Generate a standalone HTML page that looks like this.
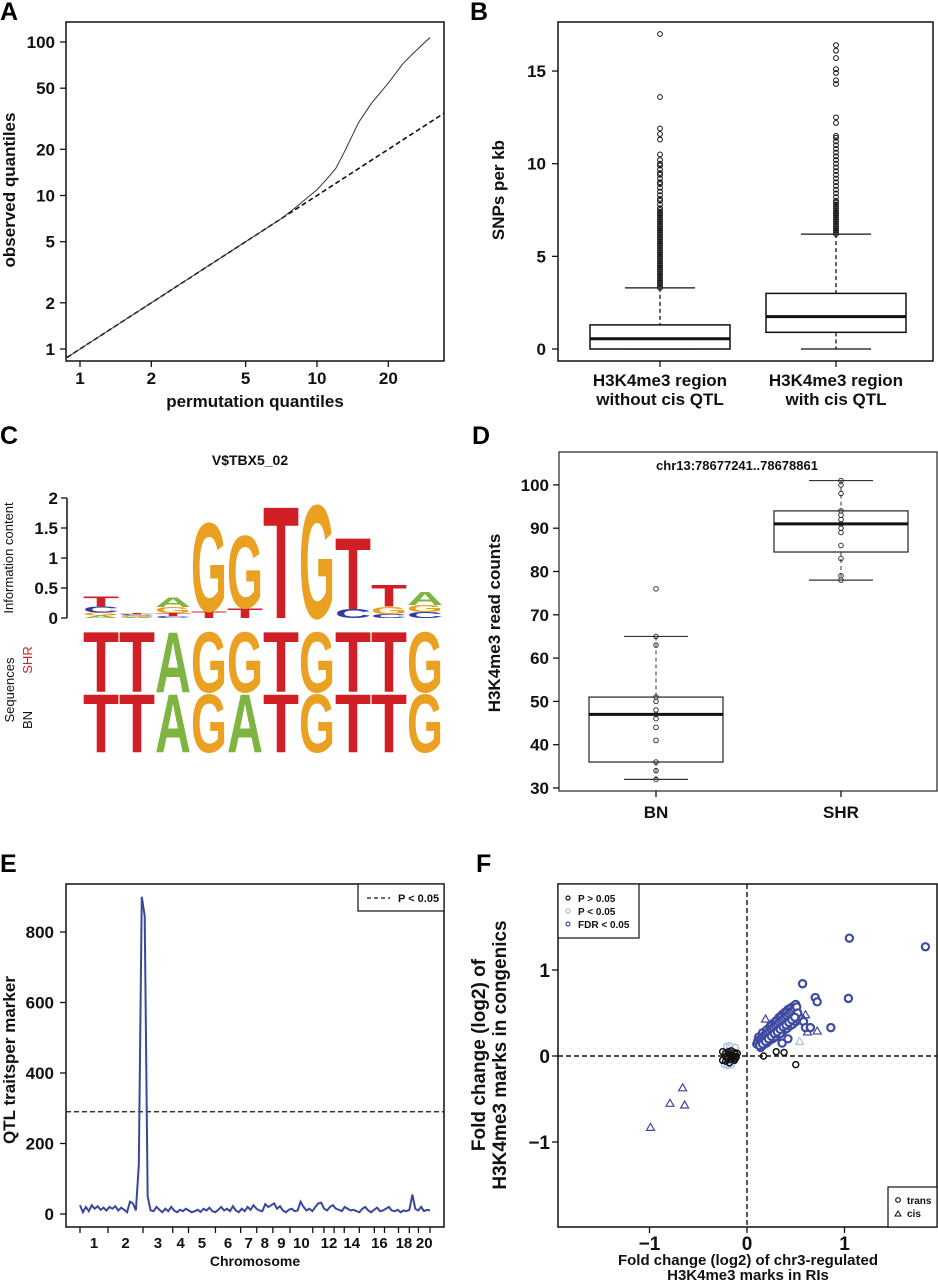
<!DOCTYPE html>
<html><head><meta charset="utf-8"><style>
html,body{margin:0;padding:0;background:#fff}
svg{display:block;font-family:"Liberation Sans",Arial,sans-serif}
.tk{font-size:17px;font-weight:bold;fill:#111}
.tt{font-size:17px;font-weight:bold;fill:#111}
.pl{font-size:25px;font-weight:bold;fill:#000}
</style></head><body>
<svg id="fig" width="938" height="1280" viewBox="0 0 938 1280" xmlns="http://www.w3.org/2000/svg">
<g id="gA"></g>
<g id="gB"></g>
<g id="gC"></g>
<g id="gD"></g>
<g id="gE"></g>
<g id="gF"></g>
</svg>
<script>
// ---------- Panel A data ----------
const aPermQ = [0.9,1,2,3,5,7,8,10,11,12,13,15,17,20,23,25,28,30];
const aObsQ  = [0.9,1,2,3,5,7,8.2,10.9,12.8,15,19,30,40,54,72,82,97,107];
const aXTicks = [1,2,5,10,20];
const aYTicks = [1,2,5,10,20,50,100];
// ---------- Panel B data ----------
const bGroups = ["H3K4me3 region|without cis QTL","H3K4me3 region|with cis QTL"];
const bQ1 = [0,0.9], bMed=[0.55,1.75], bQ3=[1.3,3.0], bLo=[0,0], bHi=[3.3,6.2];
const bOut1 = [3.3,3.4,3.5,3.6,3.7,3.8,3.9,4.0,4.1,4.2,4.3,4.4,4.5,4.6,4.7,4.8,4.9,5.0,5.1,5.2,5.3,5.4,5.5,5.6,5.7,5.8,5.9,6.0,6.1,6.2,6.3,6.4,6.5,6.6,6.7,6.8,6.9,7.0,7.1,7.2,7.3,7.4,7.5,7.6,7.8,8.0,8.1,8.3,8.5,8.7,8.9,9.0,9.2,9.4,9.5,9.7,9.9,10.0,10.2,10.5,11.3,11.6,11.9,13.6,17.0];
const bOut2 = [6.2,6.3,6.4,6.5,6.6,6.7,6.8,6.9,7.0,7.1,7.2,7.3,7.4,7.5,7.6,7.7,7.8,7.9,8.0,8.2,8.4,8.6,8.8,9.0,9.2,9.4,9.6,9.8,10.0,10.2,10.4,10.6,10.8,11.0,11.2,11.4,11.5,12.2,12.5,14.3,14.5,14.9,15.1,15.7,16.1,16.4];
const bYTicks = [0,5,10,15];
// ---------- Panel C data ----------
const cMotifCols = [
 [["A",0.04],["G",0.05],["C",0.1],["T",0.18]],
 [["A",0.02],["G",0.02],["C",0.02],["T",0.02]],
 [["C",0.03],["T",0.05],["G",0.1],["A",0.17]],
 [["T",0.11],["G",1.53]],
 [["T",0.17],["G",1.25]],
 [["T",1.92]],
 [["G",1.95]],
 [["C",0.15],["T",1.22]],
 [["C",0.07],["G",0.12],["T",0.38]],
 [["C",0.1],["G",0.12],["A",0.22]]
];
const cSHR = ["T","T","A","G","G","T","G","T","T","G"];
const cBN  = ["T","T","A","G","A","T","G","T","T","G"];
const cYTicks = [0,0.5,1,1.5,2];
// ---------- Panel D data ----------
const dGroups = ["BN","SHR"];
const dQ1=[36,84.5], dMed=[47,91], dQ3=[51,94], dLo=[32,78], dHi=[65,101];
const dPtsBN = [32,34,36,41,44,46,47,48,50,51,63,65,76];
const dPtsSHR = [78,79,83,86,89,90,91,92,93,94,98,100,101];
const dYTicks = [30,40,50,60,70,80,90,100];
// ---------- Panel E data ----------
const eQtl = [25,5,20,8,25,15,22,12,18,10,20,15,22,10,18,12,5,35,30,10,140,900,845,50,10,8,20,12,5,15,8,20,10,5,12,8,15,10,5,8,12,6,15,10,18,8,5,12,20,10,15,8,22,10,5,15,8,20,12,25,15,10,8,28,20,25,30,15,22,10,5,12,15,8,10,35,20,10,15,8,20,30,32,15,10,20,25,15,12,8,20,15,10,12,8,5,15,20,10,5,12,18,8,10,15,20,10,8,12,5,10,8,12,55,15,10,20,8,12,10];
const eThreshold = 290;
const eYTicks = [0,200,400,600,800];
const eChrBounds = [0,0.08,0.18,0.265,0.31,0.387,0.459,0.505,0.551,0.6,0.665,0.697,0.726,0.755,0.798,0.841,0.87,0.91,0.941,0.967,1.0];
const eChrLabels = ["1","2","3","4","5","6","7","8","9","10","","12","","14","","16","","18","","20"];
// ---------- Panel F data ----------
const fFdrX = [0.1,0.12,0.14,0.15,0.16,0.18,0.2,0.22,0.24,0.25,0.27,0.3,0.32,0.34,0.36,0.38,0.4,0.42,0.44,0.46,0.48,0.5,0.12,0.15,0.18,0.21,0.24,0.27,0.3,0.33,0.36,0.39,0.42,0.45,0.48,0.14,0.17,0.2,0.23,0.26,0.29,0.32,0.35,0.38,0.41,0.44,0.47,0.5,0.53,0.55,0.12,0.16,0.2,0.25,0.3,0.35,0.4,0.45,0.5,0.22,0.28,0.34,0.58,0.6,0.65,0.7,0.72,0.86,1.04,1.05,1.83,0.57,0.36,0.42,
 0.11,0.13,0.15,0.17,0.19,0.21,0.23,0.25,0.27,0.29,0.31,0.33,0.35,0.37,0.39,0.41,0.43,0.45,0.47,0.49,0.51,0.14,0.17,0.2,0.23,0.26,0.29,0.32,0.35,0.38,0.41,0.44,0.47,0.5,0.52,0.13,0.16,0.19,0.22,0.25,0.28,0.31,0.34,0.37,0.4,0.43,0.46,0.49];
const fFdrY = [0.14,0.16,0.19,0.2,0.22,0.24,0.26,0.28,0.3,0.31,0.33,0.35,0.37,0.39,0.41,0.43,0.45,0.46,0.48,0.5,0.52,0.54,0.2,0.24,0.28,0.31,0.35,0.38,0.41,0.45,0.48,0.51,0.54,0.56,0.58,0.1,0.13,0.15,0.18,0.2,0.22,0.25,0.27,0.3,0.32,0.35,0.37,0.4,0.42,0.44,0.22,0.27,0.3,0.35,0.4,0.45,0.5,0.55,0.6,0.18,0.22,0.26,0.4,0.33,0.33,0.68,0.63,0.33,0.67,1.37,1.27,0.84,0.15,0.2,
 0.17,0.19,0.21,0.23,0.25,0.27,0.29,0.31,0.33,0.35,0.37,0.39,0.41,0.43,0.45,0.47,0.49,0.51,0.53,0.55,0.57,0.15,0.17,0.2,0.22,0.25,0.27,0.3,0.33,0.35,0.38,0.4,0.43,0.46,0.5,0.12,0.14,0.17,0.2,0.23,0.26,0.28,0.31,0.34,0.36,0.39,0.42,0.45];
const fNsX = [-0.25,-0.22,-0.2,-0.18,-0.16,-0.14,-0.12,-0.1,-0.2,-0.17,-0.15,-0.13,-0.11,-0.22,-0.19,-0.16,-0.13,-0.25,-0.18,-0.12,0.17,0.3,0.38,0.5];
const fNsY = [0.05,0.03,0.0,0.02,0.01,0.0,0.02,0.03,-0.03,-0.04,-0.02,-0.05,-0.01,-0.06,0.05,0.06,0.04,-0.05,-0.08,-0.03,0.0,0.05,0.04,-0.1];
const fPX = [-0.23,-0.2,-0.16,-0.21,-0.18,-0.12];
const fPY = [-0.1,-0.11,-0.1,0.11,0.12,0.1];
const fCisX = [-0.99,-0.79,-0.66,-0.64,0.62,0.6,0.19,0.72,0.54];
const fCisY = [-0.83,-0.55,-0.37,-0.57,0.28,0.48,0.43,0.29,0.17];
const fTicks = [-1,0,1];

const NS="http://www.w3.org/2000/svg";
function mk(tag, attrs, parent){const e=document.createElementNS(NS,tag);for(const k in attrs)e.setAttribute(k,attrs[k]);parent.appendChild(e);return e;}
function txt(s,x,y,cls,parent,anchor,rot){const t=mk("text",{x:x,y:y,"class":cls,"text-anchor":anchor||"middle"},parent);if(rot)t.setAttribute("transform","rotate(-90 "+x+" "+y+")");t.textContent=s;return t;}

// ================= Panel A =================
(function(){
 const g=document.getElementById("gA");
 const sx=v=>80+237*Math.log10(v), sy=v=>349-153.5*Math.log10(v);
 const L=txt("A",0,20,"pl",g,"start");
 
 
 const box=mk("rect",{x:66,y:22,width:378,height:339,fill:"none",stroke:"#111","stroke-width":1.5},g);
 
 
 aXTicks.forEach(v=>{const x=sx(v);mk("line",{x1:x,x2:x,y1:361,y2:367,stroke:"#111","stroke-width":1.3},g);
  const t=txt(String(v),x,384,"tk",g);
  
  });
 aYTicks.forEach(v=>{const y=sy(v);mk("line",{x1:60,x2:66,y1:y,y2:y,stroke:"#111","stroke-width":1.3},g);
  const t=txt(String(v),55,y+6,"tk",g,"end");
  
  });
 const xt=txt("permutation quantiles",255,407,"tt",g);
 
 
 const yt=txt("observed quantiles",15,190,"tt",g,"middle",true);
 
 
 const ref=mk("line",{x1:sx(0.88),y1:sy(0.88),x2:444,y2:sy(Math.pow(10,(444-80)/237)),stroke:"#111","stroke-width":1.6,"stroke-dasharray":"5,3"},g);
 
 
 const p=mk("polyline",{points:aPermQ.map((v,i)=>sx(v)+","+sy(aObsQ[i])).join(" "),fill:"none",stroke:"#333","stroke-width":1},g);
 
 
})();

// ================= Panel B =================
(function(){
 const g=document.getElementById("gB");
 const sy=v=>349-18.53*v; const cx=[660,836]; const hw=70, cap=35;
 const L=txt("B",470,20,"pl",g,"start");
 
 
 const box=mk("rect",{x:558,y:22,width:375,height:339,fill:"none",stroke:"#111","stroke-width":1.5},g);
 
 
 bYTicks.forEach(v=>{const y=sy(v);mk("line",{x1:552,x2:558,y1:y,y2:y,stroke:"#111","stroke-width":1.3},g);
  const t=txt(String(v),546,y+6,"tk",g,"end");
  
  });
 const yt=txt("SNPs per kb",504,190,"tt",g,"middle",true);
 
 
 [bOut1,bOut2].forEach((arr,gi)=>{
  const bg=mk("g",{},g);
  
  
  const x=cx[gi];
  mk("line",{x1:x,x2:x,y1:361,y2:367,stroke:"#111","stroke-width":1.3},bg);
  bGroups[gi].split("|").forEach((s,li)=>{const t=txt(s,x,386+li*19,"tk",bg);
   
   });
  mk("line",{x1:x,x2:x,y1:sy(bHi[gi]),y2:sy(bQ3[gi]),stroke:"#111","stroke-dasharray":"4,3","stroke-width":1.3},bg);
  mk("line",{x1:x,x2:x,y1:sy(bQ1[gi]),y2:sy(bLo[gi]),stroke:"#111","stroke-dasharray":"4,3","stroke-width":1.3},bg);
  mk("line",{x1:x-cap,x2:x+cap,y1:sy(bHi[gi]),y2:sy(bHi[gi]),stroke:"#111","stroke-width":1.3},bg);
  mk("line",{x1:x-cap,x2:x+cap,y1:sy(bLo[gi]),y2:sy(bLo[gi]),stroke:"#111","stroke-width":1.3},bg);
  const r=mk("rect",{x:x-hw,y:sy(bQ3[gi]),width:2*hw,height:sy(bQ1[gi])-sy(bQ3[gi]),fill:"#fff",stroke:"#111","stroke-width":1.5},bg);
  
  
  const m=mk("line",{x1:x-hw,x2:x+hw,y1:sy(bMed[gi]),y2:sy(bMed[gi]),stroke:"#111","stroke-width":3},bg);
  
  
  arr.forEach(v=>{const c=mk("circle",{cx:x,cy:sy(v),r:2.4,fill:"none",stroke:"#111","stroke-width":1},bg);
   
   });
 });
})();

// ================= Panel C =================
(function(){
 const g=document.getElementById("gC");
 const colors={T:"#d11f26",G:"#eaa020",A:"#7fb440",C:"#2f3c9c"};
 const adv={T:0.611,G:0.778,A:0.722,C:0.722};
 const x0=83, cw=36, base=618, ppb=60;
 function letter(ch,x,yb,w,h,parent){
  if(h<0.5)return;
  const t=mk("text",{x:0,y:0,"font-size":100,"font-weight":"bold",fill:colors[ch],transform:"translate("+x+","+yb+") scale("+(w/(adv[ch]*100))+","+(h/72)+")"},parent);
  t.textContent=ch;
  
  
 }
 const L=txt("C",0,444,"pl",g,"start");
 
 
 const ti=txt("V$TBX5_02",250,465,"tk",g);
 ti.style.fontSize="14px";
 
 
 mk("line",{x1:67,x2:67,y1:base-2*ppb,y2:base,stroke:"#111","stroke-width":1.5},g);
 cYTicks.forEach(v=>{const y=base-v*ppb;mk("line",{x1:61,x2:67,y1:y,y2:y,stroke:"#111","stroke-width":1.3},g);
  const t=txt(String(v),58,y+6,"tk",g,"end");
  
  });
 const yt=txt("Information content",13,558,"tk",g,"middle",true);
 yt.style.fontSize="13px";yt.style.fontWeight="normal";
 
 
 const logo=mk("g",{},g);
 
 
 cMotifCols.forEach((stack,i)=>{let y=base;stack.forEach(([ch,h])=>{const hp=h*ppb;letter(ch,x0+i*cw,y,cw,hp,logo);y-=hp;});});
 const shr=mk("g",{},g);
 
 
 cSHR.forEach((ch,i)=>letter(ch,x0+i*cw,692,cw,62,shr));
 const bn=mk("g",{},g);
 
 
 cBN.forEach((ch,i)=>letter(ch,x0+i*cw,752,cw,60,bn));
 const s1=txt("Sequences",14,690,"tk",g,"middle",true);s1.style.fontSize="13px";s1.style.fontWeight="normal";
 
 
 const s2=txt("SHR",32,660,"tk",g,"middle",true);s2.style.fontSize="13px";s2.style.fontWeight="normal";s2.style.fill="#d11f26";
 
 
 const s3=txt("BN",32,720,"tk",g,"middle",true);s3.style.fontSize="13px";s3.style.fontWeight="normal";
 
 
})();

// ================= Panel D =================
(function(){
 const g=document.getElementById("gD");
 const sy=v=>788-4.33*(v-30); const cx=[656,841]; const hw=67, cap=32;
 const L=txt("D",472,444,"pl",g,"start");
 
 
 const box=mk("rect",{x:559,y:452,width:378,height:339,fill:"none",stroke:"#333","stroke-width":1.3},g);
 
 
 const ti=txt("chr13:78677241..78678861",737,470,"tk",g);ti.style.fontSize="13px";
 
 
 dYTicks.forEach(v=>{const y=sy(v);mk("line",{x1:553,x2:559,y1:y,y2:y,stroke:"#111","stroke-width":1.3},g);
  const t=txt(String(v),549,y+6,"tk",g,"end");
  
  });
 const yt=txt("H3K4me3 read counts",500,623,"tt",g,"middle",true);
 
 
 [dPtsBN,dPtsSHR].forEach((pts,gi)=>{
  const bg=mk("g",{},g);
  
  
  const x=cx[gi];
  mk("line",{x1:x,x2:x,y1:791,y2:797,stroke:"#111","stroke-width":1.3},bg);
  const t=txt(dGroups[gi],x,818,"tt",bg);
  
  
  mk("line",{x1:x,x2:x,y1:sy(dHi[gi]),y2:sy(dQ3[gi]),stroke:"#333","stroke-dasharray":"4,3"},bg);
  mk("line",{x1:x,x2:x,y1:sy(dQ1[gi]),y2:sy(dLo[gi]),stroke:"#333","stroke-dasharray":"4,3"},bg);
  mk("line",{x1:x-cap,x2:x+cap,y1:sy(dHi[gi]),y2:sy(dHi[gi]),stroke:"#333","stroke-width":1.2},bg);
  mk("line",{x1:x-cap,x2:x+cap,y1:sy(dLo[gi]),y2:sy(dLo[gi]),stroke:"#333","stroke-width":1.2},bg);
  mk("rect",{x:x-hw,y:sy(dQ3[gi]),width:2*hw,height:sy(dQ1[gi])-sy(dQ3[gi]),fill:"none",stroke:"#333","stroke-width":1.3},bg);
  const m=mk("line",{x1:x-hw,x2:x+hw,y1:sy(dMed[gi]),y2:sy(dMed[gi]),stroke:"#111","stroke-width":3},bg);
  
  
  pts.forEach(v=>{const c=mk("circle",{cx:x,cy:sy(v),r:2.3,fill:"none",stroke:"#222","stroke-width":0.9},bg);
   
   });
 });
})();

// ================= Panel E =================
(function(){
 const g=document.getElementById("gE");
 const xs=80, xe=430; const sx=f=>xs+f*(xe-xs); const sy=v=>1214-0.3525*v;
 const L=txt("E",0,872,"pl",g,"start");
 
 
 const box=mk("rect",{x:66,y:884,width:378,height:343,fill:"none",stroke:"#111","stroke-width":1.5},g);
 
 
 eYTicks.forEach(v=>{const y=sy(v);mk("line",{x1:60,x2:66,y1:y,y2:y,stroke:"#111","stroke-width":1.3},g);
  const t=txt(String(v),54,y+6,"tk",g,"end");
  
  });
 eChrBounds.forEach(f=>mk("line",{x1:sx(f),x2:sx(f),y1:1227,y2:1233,stroke:"#111","stroke-width":1.3},g));
 eChrLabels.forEach((s,i)=>{if(!s)return;const x=sx((eChrBounds[i]+eChrBounds[i+1])/2);
  const t=txt(s,x,1248,"tk",g);t.style.fontSize="15px";
  
  });
 const xt=txt("Chromosome",255,1266,"tk",g);xt.style.fontSize="14px";
 
 
 const yt=txt("QTL traitsper marker",15,1060,"tt",g,"middle",true);
 
 
 const th=mk("line",{x1:66,x2:444,y1:sy(eThreshold),y2:sy(eThreshold),stroke:"#111","stroke-width":1.3,"stroke-dasharray":"5,3"},g);
 
 
 const n=eQtl.length;
 const ln=mk("polyline",{points:eQtl.map((v,i)=>sx(i/(n-1))+","+sy(v)).join(" "),fill:"none",stroke:"#3b479c","stroke-width":2},g);
 
 
 const lg=mk("g",{},g);
 
 
 mk("rect",{x:358,y:884,width:86,height:27,fill:"#fff",stroke:"#111","stroke-width":1.2},lg);
 mk("line",{x1:367,x2:390,y1:898,y2:898,stroke:"#111","stroke-width":1.3,"stroke-dasharray":"4,3"},lg);
 const lt=txt("P < 0.05",398,902,"tk",lg,"start");lt.style.fontSize="11px";
 
 
})();

// ================= Panel F =================
(function(){
 const g=document.getElementById("gF");
 const sx=v=>747+97.5*v, sy=v=>1056-86*v;
 const L=txt("F",476,872,"pl",g,"start");
 
 
 const box=mk("rect",{x:558,y:884,width:379,height:343,fill:"none",stroke:"#111","stroke-width":1.5},g);
 
 
 fTicks.forEach(v=>{
  mk("line",{x1:sx(v),x2:sx(v),y1:1227,y2:1233,stroke:"#111","stroke-width":1.3},g);
  const t=txt(v<0?"\u2212"+(-v):String(v),sx(v),1250,"tk",g);
  t.style.fontSize="19px";
  
  
  mk("line",{x1:552,x2:558,y1:sy(v),y2:sy(v),stroke:"#111","stroke-width":1.3},g);
  const u=txt(v<0?"\u2212"+(-v):String(v),550,sy(v)+7,"tk",g,"end");
  u.style.fontSize="19px";
  
  
 });
 const x1=txt("Fold change (log2) of chr3-regulated",748,1265,"tk",g);x1.style.fontSize="15px";
 
 
 const x2=txt("H3K4me3 marks in RIs",748,1280,"tk",g);x2.style.fontSize="15px";
 
 
 const y1=txt("Fold change (log2) of",485,1055,"tt",g,"middle",true);y1.style.fontSize="19px";
 
 
 const y2=txt("H3K4me3 marks in congenics",506,1055,"tt",g,"middle",true);y2.style.fontSize="19px";
 
 
 mk("line",{x1:sx(0),x2:sx(0),y1:884,y2:1227,stroke:"#111","stroke-width":1.4,"stroke-dasharray":"5,3"},g);
 mk("line",{x1:558,x2:937,y1:sy(0),y2:sy(0),stroke:"#111","stroke-width":1.4,"stroke-dasharray":"5,3"},g);
 fFdrX.forEach((v,i)=>{const c=mk("circle",{cx:sx(v),cy:sy(fFdrY[i]),r:3.6,fill:"#fff",stroke:"#3d4aa0","stroke-width":2.2},g);
  
  });
 fPX.forEach((v,i)=>{const c=mk("circle",{cx:sx(v),cy:sy(fPY[i]),r:3,fill:"none",stroke:"#a6c4e6","stroke-width":1.5},g);
  
  });
 fNsX.forEach((v,i)=>{const c=mk("circle",{cx:sx(v),cy:sy(fNsY[i]),r:3,fill:"none",stroke:"#111","stroke-width":1.5},g);
  
  });
 fCisX.forEach((v,i)=>{const x=sx(v),y=sy(fCisY[i]);
  const c=mk("polygon",{points:(x-4)+","+(y+3)+" "+(x+4)+","+(y+3)+" "+x+","+(y-4),fill:"none",stroke:i==8?"#a6c4e6":"#3d4aa0","stroke-width":1.2},g);
  
  });
 const lg=mk("g",{},g);
 
 
 mk("rect",{x:558,y:884,width:81,height:54,fill:"#fff",stroke:"#111","stroke-width":1.2},lg);
 [["P > 0.05","#111"],["P < 0.05","#a6c4e6"],["FDR < 0.05","#3d4aa0"]].forEach(([s,c],i)=>{
  mk("circle",{cx:568,cy:898+i*13,r:2,fill:"none",stroke:c,"stroke-width":1.2},lg);
  const t=txt(s,578,902+i*13,"tk",lg,"start");t.style.fontSize="10px";
  
  });
 const lg2=mk("g",{},g);
 
 
 mk("rect",{x:888,y:1187,width:49,height:40,fill:"#fff",stroke:"#111","stroke-width":1.2},lg2);
 mk("circle",{cx:898,cy:1200,r:2.3,fill:"none",stroke:"#111","stroke-width":1.2},lg2);
 mk("polygon",{points:"895,1216 901,1216 898,1211",fill:"none",stroke:"#111","stroke-width":1},lg2);
 const t1=txt("trans",907,1204,"tk",lg2,"start");t1.style.fontSize="10px";
 
 
 const t2=txt("cis",907,1217,"tk",lg2,"start");t2.style.fontSize="10px";
 
 
})();
</script>
</body></html>
